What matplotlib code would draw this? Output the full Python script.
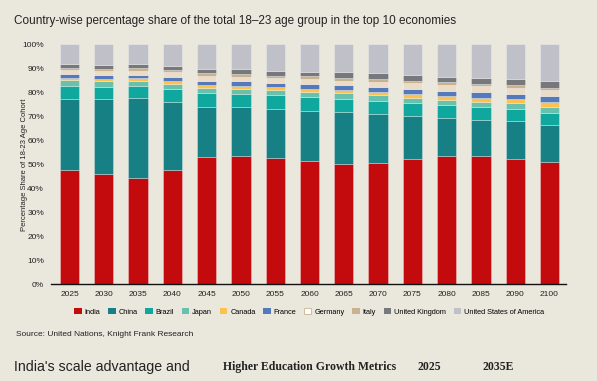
import matplotlib
matplotlib.use("Agg")
import matplotlib.pyplot as plt
import matplotlib.patches as mpatches
import numpy as np

years = ['2025', '2030', '2035', '2040', '2045', '2050', '2055', '2060',
         '2065', '2070', '2075', '2080', '2085', '2090', '2100']

# share (%) of the total 18-23 age group, bottom to top of each bar
india = [47.8, 45.8, 44.4, 47.5, 52.9, 53.6, 52.8, 51.2, 50.3, 50.7, 52.3, 53.6, 53.3, 52.1, 50.8]
china = [29.5, 31.4, 33.2, 28.6, 21.1, 20.1, 20.4, 21.1, 21.6, 20.4, 17.8, 15.6, 15.2, 15.8, 15.5]
brazil = [5.5, 5.0, 5.0, 5.4, 5.8, 5.6, 5.5, 5.6, 5.4, 5.4, 5.6, 5.5, 5.5, 5.3, 5.2]
japan = [2.3, 2.4, 2.2, 2.1, 2.0, 2.2, 2.3, 2.2, 2.3, 2.4, 2.1, 2.1, 2.1, 2.2, 2.4]
canada = [0.9, 0.8, 1.0, 1.1, 1.2, 1.3, 1.2, 1.4, 1.4, 1.4, 1.5, 1.7, 1.7, 1.8, 1.9]
france = [1.6, 1.7, 1.4, 1.8, 1.8, 1.8, 1.8, 2.1, 2.0, 2.0, 2.2, 2.2, 2.2, 2.2, 2.5]
germany = [1.8, 1.8, 1.8, 1.8, 2.1, 1.9, 2.0, 1.8, 1.8, 2.1, 2.2, 2.3, 2.5, 2.5, 2.7]
italy = [0.7, 0.8, 1.1, 1.0, 1.0, 1.0, 0.9, 1.3, 1.3, 1.1, 1.1, 1.3, 1.0, 1.1, 0.9]
uk = [1.6, 1.7, 1.7, 1.7, 1.9, 2.1, 2.1, 1.9, 2.2, 2.4, 2.4, 2.2, 2.5, 2.5, 2.7]
usa = [8.3, 8.6, 8.2, 9.0, 10.2, 10.4, 11.0, 11.4, 11.7, 12.1, 12.8, 13.5, 14.0, 14.5, 15.4]

countries = ['India', 'China', 'Brazil', 'Japan', 'Canada', 'France',
             'Germany', 'Italy', 'United Kingdom', 'United States of America']
series = [india, china, brazil, japan, canada, france, germany, italy, uk, usa]
colors = ['#c30b0e', '#178084', '#10a89e', '#69c0ac', '#fcc24d', '#5479bd',
          '#ebdcc8', '#c9b28f', '#77787c', '#c0c0c8']

bg = '#eae7dd'
plt.rcParams['font.family'] = ['Liberation Sans', 'DejaVu Sans']

fig = plt.figure(figsize=(5.97, 3.81), dpi=100, facecolor=bg)
ax = fig.add_axes([0.0854, 0.2538, 0.8626, 0.6299], facecolor=bg)

x = np.arange(len(years))
bottom = np.zeros(len(years))
for vals, col in zip(series, colors):
    ax.bar(x, vals, bottom=bottom, width=0.56, color=col,
           edgecolor=(1, 1, 1, 0.35), linewidth=0.6)
    bottom += np.array(vals)

ax.set_xlim(-0.54, 14.48)
ax.set_ylim(0, 100)
ax.set_yticks(range(0, 101, 10))
ax.set_yticklabels([f'{v}%' for v in range(0, 101, 10)], fontsize=6, color='#222222')
ax.set_xticks(x)
ax.set_xticklabels(years, fontsize=6, color='#222222')
ax.tick_params(axis='both', length=0, pad=5)
for s in ['top', 'right', 'left']:
    ax.spines[s].set_visible(False)
ax.spines['bottom'].set_color('#111111')
ax.spines['bottom'].set_linewidth(1.0)
ax.set_ylabel('Percentage Share of 18-23 Age Cohort', fontsize=5.5, color='#222222', labelpad=-4)

fig.text(0.0235, 0.946, 'Country-wise percentage share of the total 18\u201323 age group in the top 10 economies',
         fontsize=8.5, color='#222222', va='center', ha='left')

handles = []
for name, col in zip(countries, colors):
    if name == 'Germany':
        handles.append(mpatches.Patch(facecolor='white', edgecolor='#c9b28f', linewidth=0.6, label=name))
    else:
        handles.append(mpatches.Patch(facecolor=col, label=name))
fig.legend(handles=handles, loc='center', bbox_to_anchor=(0.518, 0.182), ncol=10, frameon=False,
           fontsize=5.3, handlelength=1.0, handleheight=1.0, handletextpad=0.4, columnspacing=1.05)

fig.text(0.027, 0.123, 'Source: United Nations, Knight Frank Research', fontsize=6, color='#222222', va='center')

fig.text(0.023, 0.036, "India's scale advantage and", fontsize=10.2, color='#222222', va='center')
fig.text(0.373, 0.036, 'Higher Education Growth Metrics', fontsize=8.5, fontweight='bold',
         family='Liberation Serif', color='#222222', va='center')
fig.text(0.70, 0.036, '2025', fontsize=8.5, fontweight='bold',
         family='Liberation Serif', color='#222222', va='center')
fig.text(0.809, 0.036, '2035E', fontsize=8.5, fontweight='bold',
         family='Liberation Serif', color='#222222', va='center')

fig.savefig('out.png', dpi=100, facecolor=bg)
